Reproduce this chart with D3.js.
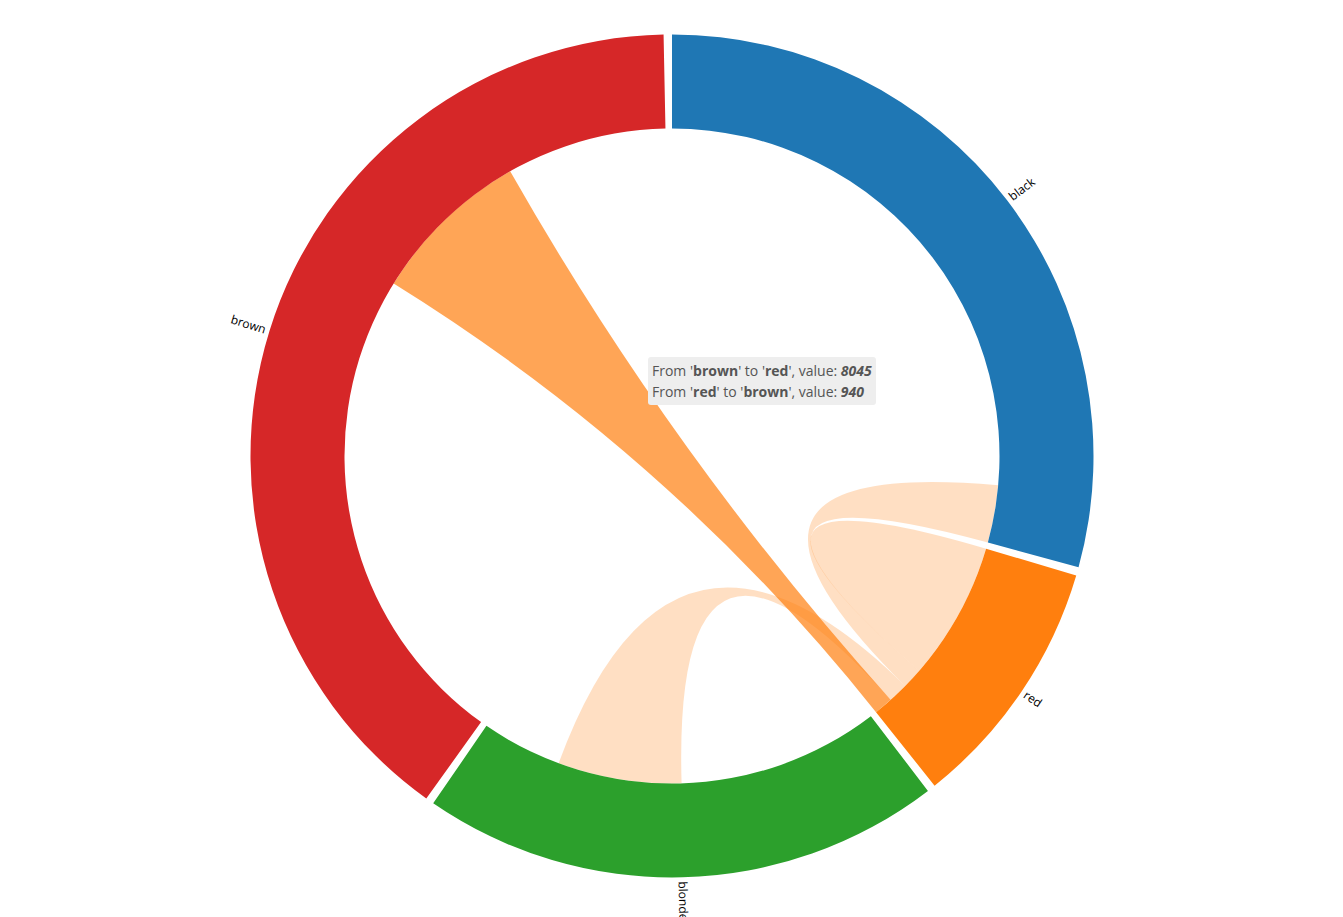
<!DOCTYPE html>
<html>
<head>
<meta charset="utf-8">
<script src="https://cdn.jsdelivr.net/npm/d3@7"></script>
<style>
  html, body { margin: 0; padding: 0; background: #fff; overflow: hidden; }
  svg { display: block; }
  #tip {
    position: absolute; left: 648px; top: 357px;
    background: #eeeeee; border-radius: 3px;
    padding: 3px 4px 3px 4px;
    font-family: "Open Sans", sans-serif; font-size: 14px; line-height: 21px;
    color: #555; white-space: nowrap;
  }
  #tip b { color: #555; }
</style>
</head>
<body>
<svg id="chart" width="1343" height="917"></svg>
<div id="tip"></div>
<script>
// ---- data ----
const names = ["black", "red", "blonde", "brown"];
const colors = ["#1f77b4", "#ff7f0e", "#2ca02c", "#d62728"];
const rowBlack  = [11975, 2868, 5871, 8916];
const rowRed    = [1013, 6907, 990, 940];
const rowBlonde = [1951, 6171, 10048, 2060];
const rowBrown  = [8010, 8045, 16145, 8090];
const matrix = [rowBlack, rowRed, rowBlonde, rowBrown];
const hoverGroup = "red";
const hoverChord = ["brown", "red"];

// ---- layout ----
const cx = 672, cy = 456;
const outerRadius = 421.5, innerRadius = 327.5;

const chord = d3.chord().padAngle(0.02).sortSubgroups(d3.descending);
const chords = chord(matrix);

const color = d3.scaleOrdinal().domain(d3.range(names.length)).range(colors);
const arc = d3.arc().innerRadius(innerRadius).outerRadius(outerRadius);
const ribbon = d3.ribbon().radius(innerRadius);

const svg = d3.select("#chart");
const g = svg.append("g").attr("transform", `translate(${cx},${cy})`);

const hg = names.indexOf(hoverGroup);
const hs = names.indexOf(hoverChord[0]), ht = names.indexOf(hoverChord[1]);

// ribbons
g.append("g").selectAll("path")
  .data(chords)
  .join("path")
  .attr("d", ribbon)
  .attr("fill", d => color(hg))
  .attr("fill-opacity", d => {
    const a = d.source.index, b = d.target.index;
    if ((a === hs && b === ht) || (a === ht && b === hs)) return 0.7;
    if (a === hg || b === hg) return 0.25;
    return 0;
  })
  .attr("stroke", "none");

// groups
const grp = g.append("g").selectAll("g")
  .data(chords.groups)
  .join("g");

grp.append("path")
  .attr("d", arc)
  .attr("fill", d => color(d.index));

grp.append("text")
  .each(d => { d.angle = (d.startAngle + d.endAngle) / 2; })
  .attr("dy", "0.35em")
  .attr("transform", d => `rotate(${d.angle * 180 / Math.PI - 90}) translate(${outerRadius + 4})` + (d.angle > Math.PI ? " rotate(180)" : ""))
  .attr("text-anchor", d => d.angle > Math.PI ? "end" : "start")
  .attr("font-family", "'Open Sans', sans-serif")
  .attr("font-size", 12)
  .attr("fill", "#000")
  .text(d => names[d.index]);

// tooltip
const tip = d3.select("#tip");
tip.html(
  `From '<b>${names[hs]}</b>' to '<b>${names[ht]}</b>', value: <b><i>${matrix[hs][ht]}</i></b><br>` +
  `From '<b>${names[ht]}</b>' to '<b>${names[hs]}</b>', value: <b><i>${matrix[ht][hs]}</i></b>`
);
</script>
</body>
</html>
